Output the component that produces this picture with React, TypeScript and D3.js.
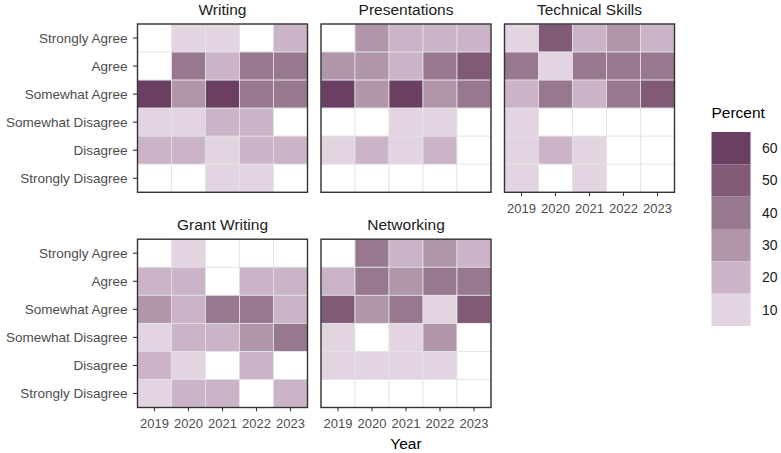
import * as d3 from "d3";

const years = ["2019", "2020", "2021", "2022", "2023"];
const responses = [
  "Strongly Agree",
  "Agree",
  "Somewhat Agree",
  "Somewhat Disagree",
  "Disagree",
  "Strongly Disagree",
];
const skills = ["Writing", "Presentations", "Technical Skills", "Grant Writing", "Networking"];

// percent per response (rows) by year (columns); null = no responses
const writing = [
  [null, 10, 10, null, 20],
  [null, 40, 20, 40, 40],
  [60, 30, 60, 40, 40],
  [10, 10, 20, 20, null],
  [20, 20, 10, 20, 20],
  [null, null, 10, 10, null],
];
const presentations = [
  [null, 30, 20, 20, 20],
  [30, 30, 20, 40, 50],
  [60, 30, 60, 30, 40],
  [null, null, 10, 10, null],
  [10, 20, 10, 20, null],
  [null, null, null, null, null],
];
const technicalSkills = [
  [10, 50, 20, 30, 20],
  [40, 10, 40, 40, 40],
  [20, 40, 20, 40, 50],
  [10, null, null, null, null],
  [10, 20, 10, null, null],
  [10, null, 10, null, null],
];
const grantWriting = [
  [null, 10, null, null, null],
  [20, 20, null, 20, 20],
  [30, 20, 40, 40, 20],
  [10, 20, 20, 30, 40],
  [20, 10, null, 20, null],
  [10, 20, 20, null, 20],
];
const networking = [
  [null, 40, 20, 30, 20],
  [20, 40, 30, 40, 40],
  [50, 30, 40, 10, 50],
  [10, null, 10, 30, null],
  [10, 10, 10, 10, null],
  [null, null, null, null, null],
];
const panelData = [writing, presentations, technicalSkills, grantWriting, networking];

const legendBreaks = [60, 50, 40, 30, 20, 10];
const palette = ["#6a3f62", "#815a78", "#98788f", "#b196aa", "#cbb4c7", "#e3d4e2"];

const W = 781;
const H = 453;
const FONT = "Liberation Sans, Arial, sans-serif";

export default function App() {
  const col = d3.scaleBand<number>().domain([0, 1, 2]).range([137.5, 674.5]).paddingInner(13.5 / 183.5);
  const row = d3.scaleBand<number>().domain([0, 1]).range([24, 407.5]).paddingInner(47 / 215.5);
  const color = d3.scaleLinear<string>().domain(legendBreaks).range(palette).clamp(true);

  const legendY = d3.scaleBand<number>().domain(legendBreaks).range([132, 326]);

  return (
    <svg width={W} height={H} style={{ position: "absolute", left: 0, top: 0, background: "#fff" }} fontFamily={FONT}>
      {skills.map((skill, i) => {
        const c = i % 3;
        const r = Math.floor(i / 3);
        const x0 = col(c)!;
        const y0 = row(r)!;
        const x = d3.scaleBand<string>().domain(years).range([x0, x0 + col.bandwidth()]);
        const y = d3.scaleBand<string>().domain(responses).range([y0, y0 + row.bandwidth()]);
        const showX = r === 1 || c === 2;
        const showY = c === 0;
        const data = panelData[i];
        return (
          <g key={skill}>
            <text x={x0 + col.bandwidth() / 2} y={y0 - 9} textAnchor="middle" fontSize={15.5} fill="#1a1a1a">
              {skill}
            </text>
            {responses.map((resp, ri) =>
              years.map((yr, yi) => {
                const v = data[ri][yi];
                return (
                  <rect
                    key={resp + yr}
                    x={x(yr)}
                    y={y(resp)}
                    width={x.bandwidth()}
                    height={y.bandwidth()}
                    fill={v == null ? "#ffffff" : color(v)}
                    stroke="#e3e3e3"
                    strokeWidth={0.8}
                  />
                );
              })
            )}
            <rect
              x={x0}
              y={y0}
              width={col.bandwidth()}
              height={row.bandwidth()}
              fill="none"
              stroke="#333333"
              strokeWidth={1.4}
            />
            {showY &&
              responses.map((resp) => {
                const cy = y(resp)! + y.bandwidth() / 2;
                return (
                  <g key={resp}>
                    <line x1={x0 - 4.5} x2={x0} y1={cy} y2={cy} stroke="#333333" strokeWidth={1.1} />
                    <text x={x0 - 10} y={cy} dy="0.35em" textAnchor="end" fontSize={13.5} fill="#4d4d4d">
                      {resp}
                    </text>
                  </g>
                );
              })}
            {showX &&
              years.map((yr) => {
                const cx = x(yr)! + x.bandwidth() / 2;
                const by = y0 + row.bandwidth();
                return (
                  <g key={yr}>
                    <line x1={cx} x2={cx} y1={by} y2={by + 3.7} stroke="#333333" strokeWidth={1.1} />
                    <text x={cx} y={by + 16} dy="0.35em" textAnchor="middle" fontSize={13} fill="#4d4d4d">
                      {yr}
                    </text>
                  </g>
                );
              })}
          </g>
        );
      })}
      <text x={(col(0)! + col(2)! + col.bandwidth()) / 2} y={449} textAnchor="middle" fontSize={15.5} fill="#000">
        Year
      </text>
      <text x={711.5} y={118} fontSize={15.5} fill="#000">
        Percent
      </text>
      {legendBreaks.map((b) => (
        <g key={b}>
          <rect x={711.5} y={legendY(b)} width={39} height={legendY.bandwidth()} fill={color(b)} />
          <text x={762} y={legendY(b)! + legendY.bandwidth() / 2} dy="0.35em" fontSize={14} fill="#1a1a1a">
            {b}
          </text>
        </g>
      ))}
    </svg>
  );
}
